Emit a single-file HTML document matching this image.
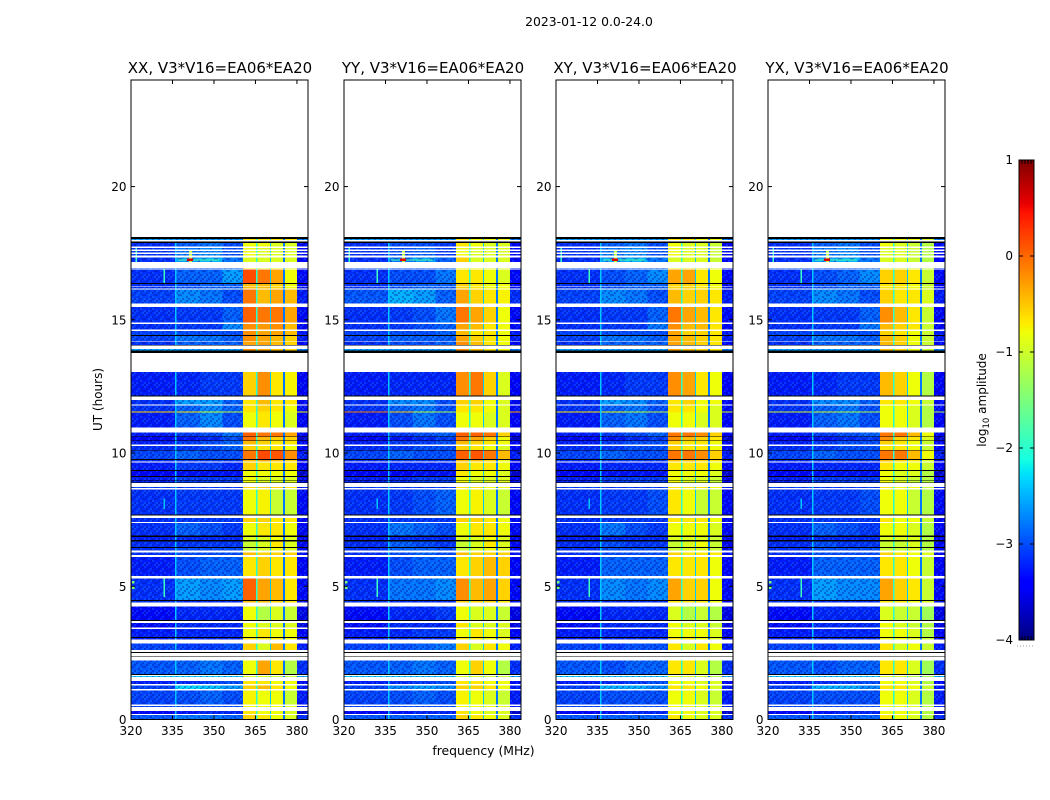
<!DOCTYPE html>
<html>
<head>
<meta charset="utf-8">
<title>2023-01-12 amplitude waterfall</title>
<style>
html,body{margin:0;padding:0;background:#fff;}
svg{display:block;}
text{font-family:"DejaVu Sans","Liberation Sans",sans-serif;fill:#000;}
</style>
</head>
<body>
<svg id="fig" xmlns="http://www.w3.org/2000/svg" width="1050" height="800" viewBox="0 0 1050 800">
<defs>
<pattern id="speckle" width="12" height="12" patternUnits="userSpaceOnUse">
<path d="M0 0h2v2H0zM6 0h2v2H6zM4 2h2v2H4zM10 2h2v2h-2zM2 4h2v2H2zM8 4h2v2H8zM0 6h2v2H0zM6 8h2v2H6zM10 6h2v2h-2zM2 10h2v2H2zM8 10h2v2H8z" fill="#00108c" fill-opacity=".34"/>
<path d="M2 0h2v2H2zM10 0h2v2h-2zM0 2h2v2H0zM6 4h2v2H6zM4 6h2v2H4zM8 8h2v2H8zM0 10h2v2H0zM4 10h2v2H4z" fill="#30b0ff" fill-opacity=".2"/>
</pattern>
</defs>
<text x="589" y="26" font-size="12.4" text-anchor="middle">2023-01-12 0.0-24.0</text>
<text x="483.5" y="755" font-size="12.4" text-anchor="middle">frequency (MHz)</text>
<text x="0" y="0" font-size="12" text-anchor="middle" transform="translate(102,399.5) rotate(-90)">UT (hours)</text>
<text x="0" y="0" font-size="12" text-anchor="middle" transform="translate(986,400) rotate(-90)">log<tspan font-size="8.5" dy="3">10</tspan><tspan dy="-3"> amplitude</tspan></text>
</svg>
<script>
// ---- axis categories and tick labels ----
const panelTitles = ["XX, V3*V16=EA06*EA20","YY, V3*V16=EA06*EA20","XY, V3*V16=EA06*EA20","YX, V3*V16=EA06*EA20"];
const xTickValues = [320,335,350,365,380];
const yTickValues = [0,5,10,15,20];
const colorbarTicks = [1,0,-1,-2,-3,-4];

// ---- frequency zones (MHz): low, midL, midC, midR, blockA, blockB, blockC, blockD ----
const zoneEdges = [[320,336],[336,345],[345,353],[353,360.5],[360.5,365.2],[365.7,370.3],[370.7,375],[375.7,380]];
const edgeZoneEdges = [380,384];
const notchEdges = [[365.2,365.7],[370.3,370.7],[375,375.7]];
const notchLevels = [-2.0,-2.4,-2.8];

// ---- time spans (hours) of the unflagged rows, top to bottom ----
const rowSpans = [[17.99,18.03],[17.75,17.89],[17.63,17.69],[17.53,17.59],[17.41,17.47],[17.17,17.34],[16.92,16.95],[16.39,16.88],[16.25,16.34],[16.18,16.23],[15.61,16.13],[14.90,15.48],[14.63,14.85],[14.43,14.58],[14.21,14.40],[14.05,14.18],[13.85,13.91],[12.16,13.05],[11.82,12.00],[11.56,11.78],[11.52,11.56],[10.95,11.52],[10.62,10.77],[10.47,10.60],[10.32,10.45],[10.12,10.27],[9.77,10.09],[9.68,9.73],[9.37,9.64],[9.14,9.33],[8.99,9.10],[8.89,8.97],[8.68,8.72],[7.69,8.64],[7.42,7.57],[6.90,7.38],[6.73,6.85],[6.48,6.68],[6.35,6.43],[6.17,6.26],[5.39,6.10],[4.49,5.30],[4.40,4.45],[3.74,4.24],[3.46,3.63],[3.10,3.40],[3.00,3.06],[2.61,2.85],[1.71,2.21],[1.60,1.63],[1.33,1.45],[1.15,1.28],[0.57,1.08],[0.46,0.50],[0.21,0.32],[0.00,0.16]];

// ---- black flagged lines (hours) ----
const blackSpans = [[18.03,18.11],[17.89,17.93],[16.34,16.39],[14.40,14.43],[14.03,14.05],[13.75,13.85],[12.12,12.16],[10.60,10.62],[10.45,10.47],[10.09,10.12],[9.73,9.77],[9.33,9.37],[9.10,9.14],[8.97,8.99],[8.87,8.89],[7.65,7.69],[6.85,6.90],[6.68,6.73],[6.43,6.48],[4.45,4.49],[3.70,3.74],[3.06,3.10],[2.50,2.53],[2.36,2.38],[1.67,1.71]];

// ---- narrow interference features: f0, f1, t0, t1, log amplitude ----
const spurs = [[335.9,336.5,0,13.05,-2.4],[335.9,336.5,14.05,17.9,-2.4],[331.8,332.3,16.39,16.88,-1.9],[321.6,322.2,17.17,17.75,-1.9],[341,342,17.15,17.62,-1.1],[337,352,17.23,17.27,-1.7],[340.3,342.4,17.2,17.3,.6],[331.8,332.3,7.9,8.3,-2.4],[331.8,332.3,4.6,5.3,-1.9],[320.4,321.2,4.9,5,-1.5],[320.4,321.2,5.1,5.2,-1.5]];

// ---- log10 amplitude per row, one array per polarisation ----
const xxLevels = [
[-2.4,-2.4,-2.4,-2.4,-.8,-.8,-.8,-.8],[-3,-2.7,-2.6,-2.8,-.9,-.9,-1,-1],[-3,-2.6,-2.5,-2.8,-.9,-1,-1,-1],[-3,-2.6,-2.5,-2.8,-.9,-1,-1,-1],[-3,-2.6,-2.5,-2.8,-.9,-1,-1,-1],[-3,-2.4,-2.3,-2.6,-1,-1,-1,-1],[-2.8,-2.8,-2.8,-2.8,-.9,-.9,-.9,-1],[-3,-2.7,-2.7,-2.4,-.1,-.3,-.5,-.9],[-3,-2.8,-2.7,-2.7,-.6,-.6,-.7,-.9],[-3,-2.8,-2.7,-2.7,-.6,-.6,-.7,-.9],[-2.9,-2.5,-2.6,-2.8,-.3,-.6,-.5,-.6],[-3,-2.9,-2.9,-2.7,-.2,-.3,-.3,-.5],[-3,-2.9,-2.9,-2.5,-.4,-.45,-.4,-.6],[-2.9,-2.8,-2.8,-2.8,-.4,-.5,-.5,-.6],[-2.9,-2.6,-2.6,-2.7,-.4,-.5,-.6,-.7],[-3,-2.7,-2.7,-2.7,-.5,-.5,-.6,-.7],[-2.4,-2.4,-2.4,-2.4,-.4,-.5,-.6,-.7],[-3.1,-3,-2.9,-2.9,-.7,-.4,-.8,-.85],[-3,-2.4,-2.4,-2.7,-.8,-.6,-.8,-.8],[-3,-2.7,-2.5,-2.7,-.8,-.7,-.8,-.9],[-.6,-.7,-1,-1.1,-.8,-.8,-.9,-1],[-3.1,-2.7,-2.5,-2.8,-.9,-.8,-.9,-1],[-3.1,-2.9,-2.8,-2.6,-.2,-.3,-.3,-.5],[-3.3,-3.1,-3,-2.8,-.3,-.6,-.7,-.7],[-3.1,-2.9,-2.8,-2.7,-.6,-.7,-.8,-.8],[-3,-2.9,-2.8,-2.7,-.7,-.8,-.8,-.9],[-2.9,-2.7,-2.8,-2.8,-.3,-.1,-.15,-.4],[-3,-2.9,-2.9,-2.9,-.6,-.5,-.6,-.7],[-3.1,-2.9,-2.9,-3,-.7,-.8,-.8,-.8],[-3.3,-3.1,-3.1,-3.1,-.9,-.9,-.9,-.9],[-3.1,-2.9,-2.9,-2.9,-.9,-1,-1,-1],[-3.1,-2.9,-2.9,-2.9,-.9,-1,-1,-1],[-2.9,-2.9,-2.9,-2.9,-.7,-.7,-.7,-.8],[-3,-2.9,-2.9,-2.9,-.9,-.85,-1.1,-1.1],[-3,-2.9,-2.9,-2.9,-.7,-.7,-.8,-.8],[-3,-2.7,-2.8,-2.9,-.9,-.8,-.8,-.9],[-3.1,-3,-3,-3,-1,-1,-.9,-1],[-3,-2.9,-2.9,-2.9,-1.1,-1,-.8,-1],[-3,-2.8,-2.8,-2.8,-1.1,-1,-.9,-1],[-3,-2.8,-2.8,-2.8,-.6,-.7,-.7,-.7],[-3.1,-2.8,-2.7,-2.7,-.8,-.7,-.8,-.8],[-3,-2.4,-2.5,-2.4,-.2,-.5,-.6,-.8],[-3,-3,-3,-3,-.6,-.6,-.7,-.8],[-3.2,-3,-3,-3,-.9,-1.2,-1,-1.1],[-3.2,-3,-3,-3,-.9,-1,-1,-1],[-3.1,-3,-3,-3,-.9,-.8,-.9,-.9],[-3.1,-3,-3,-3,-.8,-.8,-.8,-.9],[-2.9,-2.9,-2.9,-2.8,-.7,-1,-.6,-.8],[-2.8,-2.7,-2.6,-2.7,-.9,-.5,-.8,-1.2],[-2.2,-2.1,-2.1,-2.2,-1,-1,-1.1,-1.1],[-3.1,-3,-2.9,-2.8,-.8,-.8,-.9,-.9],[-2.9,-2.1,-2.2,-2.4,-.7,-.6,-.8,-.9],[-2.9,-2.8,-2.7,-2.8,-.85,-.9,-.9,-1.1],[-2.9,-2.8,-2.8,-2.8,-.9,-.9,-.9,-1],[-3.3,-3.1,-3,-3,-.8,-.9,-.9,-1],[-2.8,-2.6,-2.6,-2.7,-.7,-.8,-.9,-1]];
const yyLevels = [
[-2.4,-2.4,-2.4,-2.4,-.8,-.9,-.9,-.9],[-3,-2.8,-2.8,-2.9,-.8,-.9,-1,-1],[-3,-2.8,-2.7,-2.9,-.9,-1,-1,-1],[-3,-2.8,-2.7,-2.9,-.9,-1,-1,-1],[-3,-2.8,-2.7,-2.9,-.9,-1,-1,-1],[-3,-2.6,-2.4,-2.7,-.7,-1,-1,-1],[-2.8,-2.8,-2.8,-2.8,-.9,-.9,-1,-1],[-3,-2.8,-2.8,-2.6,-.8,-.8,-.9,-1],[-3,-2.8,-2.7,-2.7,-.7,-.8,-.9,-.9],[-3,-2.8,-2.7,-2.7,-.7,-.8,-.9,-.9],[-2.8,-2.3,-2.4,-2.7,-.5,-.7,-.8,-.85],[-3,-2.9,-2.8,-2.6,-.3,-.5,-.7,-.9],[-3,-2.9,-2.8,-2.7,-.5,-.6,-.8,-.9],[-2.9,-2.8,-2.8,-2.7,-.6,-.8,-.8,-.9],[-2.9,-2.7,-2.7,-2.7,-.5,-.7,-.8,-.9],[-3,-2.8,-2.8,-2.7,-.4,-.6,-.8,-.9],[-2.4,-2.4,-2.4,-2.4,-.4,-.6,-.8,-.9],[-3.1,-3,-3,-3,-.4,-.3,-.7,-1],[-3,-2.5,-2.5,-2.8,-.7,-.7,-.9,-1],[-3,-2.7,-2.6,-2.8,-.8,-.8,-.9,-1],[-.1,-.5,-1.1,-1.2,-.8,-.8,-.9,-1],[-3.1,-2.8,-2.6,-2.8,-.9,-.9,-1,-1],[-3.1,-2.9,-2.8,-2.7,-.2,-.2,-.3,-.7],[-3.3,-3.1,-3,-2.9,-.3,-.5,-.7,-.9],[-3.1,-2.9,-2.9,-2.8,-.6,-.7,-.8,-.9],[-3,-2.9,-2.8,-2.8,-.7,-.8,-.9,-1],[-2.9,-2.7,-2.8,-2.8,-.2,-.15,-.3,-.6],[-3,-2.9,-2.9,-2.9,-.6,-.6,-.7,-.9],[-3.1,-3,-3,-3,-.7,-.8,-.8,-.9],[-3.3,-3.2,-3.1,-3.1,-.8,-.9,-.9,-1],[-3.1,-3,-2.9,-2.9,-.9,-1,-1,-1],[-3.1,-3,-2.9,-2.9,-.9,-1,-1,-1],[-2.9,-2.9,-2.9,-2.9,-.8,-.8,-.9,-.9],[-3,-2.9,-2.8,-2.7,-.9,-.85,-1,-1.1],[-3,-2.9,-2.9,-2.9,-.7,-.7,-.8,-.9],[-3,-2.6,-2.7,-2.8,-.9,-.8,-.8,-.9],[-3.1,-3,-3,-3,-1,-1,-.9,-1],[-3,-2.7,-2.8,-2.9,-1.1,-1,-.8,-1],[-3,-2.7,-2.7,-2.8,-1.1,-1,-.9,-1],[-3,-2.8,-2.7,-2.8,-.6,-.7,-.7,-.7],[-3.1,-2.8,-2.7,-2.7,-.8,-.7,-.6,-.7],[-3,-2.6,-2.6,-2.5,-.4,-.6,-.5,-.7],[-3,-3,-3,-3,-.7,-.7,-.7,-.8],[-3.2,-3,-3,-2.9,-.9,-1,-1,-1.1],[-3.2,-3,-3,-3,-.8,-1,-1,-1],[-3.1,-3,-2.9,-2.9,-.9,-.8,-.9,-1],[-3.1,-3,-3,-3,-.8,-.8,-.9,-.9],[-2.9,-2.8,-2.7,-2.6,-.7,-1,-.8,-.9],[-2.8,-2.7,-2.6,-2.7,-.9,-.7,-.9,-1.2],[-2.2,-2.2,-2.2,-2.2,-1,-1,-1.1,-1.1],[-3.1,-3,-2.9,-2.8,-.8,-.8,-.9,-.9],[-2.9,-2.5,-2.4,-2.5,-.7,-.7,-.8,-.9],[-2.9,-2.8,-2.7,-2.8,-.85,-.9,-1,-1.1],[-2.9,-2.8,-2.8,-2.8,-.9,-.9,-.9,-1],[-3.3,-3.1,-3,-3,-.8,-.9,-1,-1],[-2.8,-2.7,-2.7,-2.7,-.7,-.8,-.9,-1]];
const xyLevels = [
[-2.4,-2.4,-2.4,-2.4,-.8,-.8,-.9,-.9],[-3,-2.7,-2.6,-2.8,-.9,-1,-1,-1.1],[-3,-2.6,-2.5,-2.8,-.9,-1,-1,-1.1],[-3,-2.6,-2.5,-2.8,-.9,-1,-1,-1.1],[-3,-2.6,-2.5,-2.8,-.9,-1,-1,-1.1],[-3,-2.4,-2.3,-2.6,-1,-1,-1,-1.1],[-2.8,-2.8,-2.8,-2.8,-.9,-.9,-1,-1],[-3,-2.8,-2.7,-2.5,-.5,-.5,-.8,-.9],[-3,-2.8,-2.7,-2.7,-.7,-.7,-.8,-.9],[-3,-2.8,-2.7,-2.7,-.7,-.7,-.8,-.9],[-2.9,-2.5,-2.6,-2.8,-.6,-.7,-.7,-.8],[-3,-2.9,-2.9,-2.7,-.3,-.5,-.6,-.8],[-3,-2.9,-2.9,-2.6,-.4,-.6,-.6,-.8],[-2.9,-2.8,-2.8,-2.8,-.5,-.7,-.7,-.8],[-2.9,-2.6,-2.6,-2.7,-.5,-.6,-.7,-.8],[-3,-2.7,-2.7,-2.7,-.5,-.6,-.7,-.8],[-2.4,-2.4,-2.4,-2.4,-.5,-.6,-.7,-.8],[-3.1,-3,-2.9,-2.9,-.4,-.5,-.8,-.9],[-3,-2.4,-2.5,-2.7,-.8,-.7,-.9,-.9],[-3,-2.7,-2.6,-2.8,-.8,-.8,-.9,-1],[-.7,-.8,-1.1,-1.1,-.8,-.8,-.9,-1],[-3.1,-2.7,-2.6,-2.8,-.9,-.9,-1,-1],[-3.1,-2.9,-2.8,-2.7,-.3,-.3,-.4,-.7],[-3.3,-3.1,-3,-2.9,-.4,-.6,-.7,-.8],[-3.1,-2.9,-2.8,-2.8,-.7,-.8,-.8,-.9],[-3,-2.9,-2.8,-2.8,-.7,-.8,-.8,-.9],[-2.9,-2.7,-2.8,-2.8,-.3,-.3,-.4,-.7],[-3,-2.9,-2.9,-2.9,-.6,-.6,-.7,-.8],[-3.1,-3,-3,-3,-.8,-.8,-.8,-.9],[-3.3,-3.1,-3.1,-3.1,-.9,-.9,-.9,-1],[-3.1,-2.9,-2.9,-2.9,-.9,-1,-1,-1.1],[-3.1,-2.9,-2.9,-2.9,-.9,-1,-1,-1.1],[-2.9,-2.9,-2.9,-2.9,-.8,-.8,-.8,-.9],[-3,-2.9,-2.9,-2.8,-.8,-.9,-1.1,-1.1],[-3,-2.9,-2.9,-2.9,-.8,-.8,-.8,-.9],[-3,-2.6,-2.8,-2.9,-.9,-.9,-.9,-1],[-3.1,-3,-3,-3,-1,-1,-1,-1.1],[-3,-2.8,-2.9,-2.9,-1.1,-1,-.9,-1.1],[-3,-2.8,-2.8,-2.8,-1.1,-1,-1,-1.1],[-3,-2.8,-2.8,-2.8,-.7,-.8,-.8,-.8],[-3.1,-2.7,-2.7,-2.7,-.8,-.8,-.8,-.9],[-3,-2.5,-2.6,-2.5,-.5,-.7,-.7,-.9],[-3,-3,-3,-3,-.8,-.8,-.8,-.9],[-3.2,-3,-3,-3,-1,-1.2,-1.1,-1.2],[-3.2,-3,-3,-3,-.9,-1,-1,-1.1],[-3.1,-3,-3,-3,-.9,-.9,-.9,-1],[-3.1,-3,-3,-3,-.8,-.8,-.9,-1],[-2.9,-2.9,-2.8,-2.8,-.8,-1,-.8,-.9],[-2.8,-2.8,-2.7,-2.7,-.8,-.8,-1,-1.2],[-2.2,-2.2,-2.2,-2.2,-1,-1,-1.1,-1.2],[-3.1,-3,-2.9,-2.8,-.9,-.9,-1,-1],[-2.9,-2.3,-2.3,-2.5,-.8,-.8,-.9,-1],[-2.9,-2.8,-2.8,-2.8,-.9,-.9,-1,-1.1],[-2.9,-2.8,-2.8,-2.8,-.9,-.9,-1,-1],[-3.3,-3.1,-3,-3,-.9,-.9,-1,-1],[-2.8,-2.7,-2.7,-2.7,-.8,-.9,-1,-1]];
const yxLevels = [
[-2.4,-2.4,-2.4,-2.4,-.9,-.9,-.9,-1],[-3,-2.7,-2.6,-2.8,-.9,-1,-1.1,-1.2],[-3,-2.6,-2.5,-2.8,-1,-1,-1.1,-1.2],[-3,-2.6,-2.5,-2.8,-1,-1,-1.1,-1.2],[-3,-2.6,-2.5,-2.8,-1,-1,-1.1,-1.2],[-3,-2.4,-2.3,-2.6,-1,-1,-1.1,-1.2],[-2.8,-2.8,-2.8,-2.8,-1,-1,-1.1,-1.2],[-3,-2.8,-2.7,-2.5,-.7,-.7,-.8,-1.1],[-3,-2.8,-2.7,-2.7,-.8,-.8,-.9,-1.1],[-3,-2.8,-2.7,-2.7,-.8,-.8,-.9,-1.1],[-2.9,-2.5,-2.6,-2.8,-.7,-.8,-.8,-1],[-3,-2.9,-2.9,-2.7,-.4,-.6,-.8,-1.1],[-3,-2.9,-2.9,-2.6,-.6,-.7,-.8,-1.1],[-2.9,-2.8,-2.8,-2.8,-.7,-.8,-.9,-1.1],[-2.9,-2.6,-2.6,-2.7,-.6,-.7,-.9,-1.1],[-3,-2.7,-2.7,-2.7,-.6,-.7,-.9,-1.1],[-2.4,-2.4,-2.4,-2.4,-.6,-.7,-.9,-1.1],[-3.1,-3,-2.9,-2.9,-.6,-.7,-.9,-1.2],[-3,-2.5,-2.5,-2.7,-.8,-.8,-.9,-1.1],[-3,-2.7,-2.6,-2.8,-.9,-.9,-1,-1.2],[-1,-1,-1.2,-1.2,-.9,-.9,-1,-1.2],[-3.1,-2.7,-2.6,-2.8,-.9,-.9,-1,-1.2],[-3.1,-2.9,-2.8,-2.7,-.3,-.3,-.6,-.9],[-3.3,-3.1,-3,-2.9,-.4,-.7,-.8,-1],[-3.1,-2.9,-2.8,-2.8,-.7,-.8,-.9,-1.1],[-3,-2.9,-2.8,-2.8,-.8,-.8,-.9,-1.1],[-2.9,-2.7,-2.8,-2.8,-.3,-.3,-.6,-.9],[-3,-2.9,-2.9,-2.9,-.6,-.7,-.8,-1],[-3.1,-3,-3,-3,-.8,-.9,-.9,-1.1],[-3.3,-3.1,-3.1,-3.1,-.9,-1,-1,-1.2],[-3.1,-2.9,-2.9,-2.9,-.9,-1,-1.1,-1.2],[-3.1,-2.9,-2.9,-2.9,-.9,-1,-1.1,-1.2],[-2.9,-2.9,-2.9,-2.9,-.8,-.9,-.9,-1.1],[-3,-2.9,-2.9,-2.8,-.9,-.9,-1.1,-1.2],[-3,-2.9,-2.9,-2.9,-.8,-.9,-.9,-1.1],[-3,-2.7,-2.8,-2.9,-.9,-.9,-1,-1.2],[-3.1,-3,-3,-3,-1,-1,-1,-1.2],[-3,-2.8,-2.9,-2.9,-1.1,-1.1,-1,-1.2],[-3,-2.8,-2.8,-2.8,-1.1,-1.1,-1,-1.2],[-3,-2.8,-2.8,-2.8,-.7,-.8,-.9,-1],[-3.1,-2.7,-2.7,-2.7,-.8,-.8,-.9,-1.1],[-3,-2.4,-2.5,-2.5,-.5,-.7,-.8,-1.1],[-3,-3,-3,-3,-.8,-.8,-.9,-1],[-3.2,-3,-3,-3,-1,-1.1,-1.1,-1.3],[-3.2,-3,-3,-3,-.9,-1,-1.1,-1.2],[-3.1,-3,-3,-3,-.9,-.9,-1,-1.2],[-3.1,-3,-3,-3,-.9,-.9,-1,-1.1],[-2.9,-2.9,-2.8,-2.8,-.8,-1,-.9,-1.1],[-2.8,-2.8,-2.7,-2.7,-.8,-.8,-1,-1.3],[-2.2,-2.2,-2.2,-2.2,-1,-1,-1.2,-1.3],[-3.1,-3,-2.9,-2.8,-.9,-.9,-1,-1.2],[-2.9,-2.3,-2.3,-2.5,-.8,-.8,-.9,-1.1],[-2.9,-2.8,-2.8,-2.8,-.9,-.9,-1,-1.2],[-2.9,-2.8,-2.8,-2.8,-.9,-.9,-1,-1.2],[-3.3,-3.1,-3,-3,-.9,-.9,-1,-1.2],[-2.8,-2.7,-2.7,-2.7,-.8,-.9,-1,-1.2]];
const panelLevels = [xxLevels,yyLevels,xyLevels,yxLevels];
const panelNames = ["xx","yy","xy","yx"];

// ---- layout and scales ----
const NS = "http://www.w3.org/2000/svg";
const fig = document.getElementById("fig");
const panelLeft = [131,344,556,768];
const panelWidth = 177;
const plotTop = 80, plotBottom = 719.5;
const fMin = 320, fMax = 384, tMin = 0, tMax = 24;
const cbX = 1019, cbW = 15, cbTop = 160, cbBottom = 640, cbMin = -4, cbMax = 1;

function xScale(p, f){ return panelLeft[p] + (f - fMin) / (fMax - fMin) * panelWidth; }
function yScale(t){ return plotBottom - (t - tMin) / (tMax - tMin) * (plotBottom - plotTop); }
function cbScale(v){ return cbBottom - (v - cbMin) / (cbMax - cbMin) * (cbBottom - cbTop); }
function ramp(t, pts){
  for (let i = 1; i < pts.length; i++) {
    if (t <= pts[i][0]) {
      const a = pts[i-1], b = pts[i];
      return a[1] + (b[1] - a[1]) * (t - a[0]) / (b[0] - a[0]);
    }
  }
  return pts[pts.length-1][1];
}
function jet(v){
  const t = Math.max(0, Math.min(1, (v - cbMin) / (cbMax - cbMin)));
  const r = ramp(t, [[0,0],[.35,0],[.66,1],[.89,1],[1,.5]]);
  const g = ramp(t, [[0,0],[.125,0],[.375,1],[.64,1],[.91,0],[1,0]]);
  const b = ramp(t, [[0,.5],[.11,1],[.34,1],[.65,0],[1,0]]);
  return "rgb(" + Math.round(r*255) + "," + Math.round(g*255) + "," + Math.round(b*255) + ")";
}
// colour calibration of estimated levels: deeper noise floor, stronger block contrast
function calibrated(zone, v){
  if (zone >= 4) return -.8 + (v + .9) * 1.2;
  if (v > -1.5) return v;
  return zone === 0 ? v - .15 : v - .2;
}
function mk(tag, attrs, parent){
  const el = document.createElementNS(NS, tag);
  for (const k in attrs) el.setAttribute(k, attrs[k]);
  parent.appendChild(el);
  return el;
}
function cell(parent, p, f0, f1, t0, t1, fill){
  const x0 = xScale(p, f0), x1 = xScale(p, f1), y0 = yScale(t1), y1 = yScale(t0);
  return mk("rect", {x:x0, y:y0, width:x1-x0, height:y1-y0, fill:fill, "shape-rendering":"crispEdges"}, parent);
}

panelTitles.forEach(function(title, p){
  const g = mk("g", {}, fig);
  
  

  const levels = panelLevels[p];
  rowSpans.forEach(function(span, r){
    const row = levels[r];
    zoneEdges.forEach(function(z, i){
      const c = cell(g, p, z[0], z[1], span[0], span[1], jet(calibrated(i, row[i])));
      
      
    });
    notchEdges.forEach(function(z, i){
      const c = cell(g, p, z[0], z[1], span[0], span[1], jet(notchLevels[i]));
      
      
    });
    const e = cell(g, p, edgeZoneEdges[0], edgeZoneEdges[1], span[0], span[1], jet(calibrated(0, row[0]) - .2));
    
    
    if (row[0] < -1.5) {
      const s1 = cell(g, p, fMin, 360.5, span[0], span[1], "url(#speckle)");
      
      
      const s2 = cell(g, p, edgeZoneEdges[0], edgeZoneEdges[1], span[0], span[1], "url(#speckle)");
      
      
    }
  });

  spurs.forEach(function(s){
    rowSpans.forEach(function(span){
      const a = Math.max(s[2], span[0]), b = Math.min(s[3], span[1]);
      if (b > a) {
        const c = cell(g, p, s[0], s[1], a, b, jet(s[4]));
        
        
      }
    });
  });

  blackSpans.forEach(function(b){
    const c = cell(g, p, fMin, fMax, b[0], b[1], "#000");
    
    
  });

  const L = panelLeft[p], R = L + panelWidth;
  const frame = mk("rect", {x:L, y:plotTop, width:panelWidth, height:plotBottom-plotTop, fill:"none", stroke:"#000", "stroke-width":1}, g);
  
  

  xTickValues.forEach(function(v){
    const x = xScale(p, v);
    const t1 = mk("line", {x1:x, x2:x, y1:plotBottom, y2:plotBottom-4, stroke:"#000"}, g);
    
    
    const t2 = mk("line", {x1:x, x2:x, y1:plotTop, y2:plotTop+4, stroke:"#000"}, g);
    
    
    const lab = mk("text", {x:x, y:735, "font-size":12, "text-anchor":"middle"}, g);
    lab.textContent = String(v);
    
    
  });
  yTickValues.forEach(function(v){
    const y = yScale(v);
    const t1 = mk("line", {x1:L, x2:L+4, y1:y, y2:y, stroke:"#000"}, g);
    
    
    const t2 = mk("line", {x1:R, x2:R-4, y1:y, y2:y, stroke:"#000"}, g);
    
    
    const lab = mk("text", {x:L-4.5, y:y+4.5, "font-size":12, "text-anchor":"end"}, g);
    lab.textContent = String(v);
    
    
  });

  const ttl = mk("text", {x:L + panelWidth/2 + .5, y:73, "font-size":15, "text-anchor":"middle"}, g);
  ttl.textContent = title;
  
  
});

// ---- colorbar ----
const cb = mk("g", {}, fig);


for (let y = cbTop; y < cbBottom; y += 2) {
  const v = cbMax - (y + 1 - cbTop) / (cbBottom - cbTop) * (cbMax - cbMin);
  const s = mk("rect", {x:cbX, y:y, width:cbW, height:2, fill:jet(v), "shape-rendering":"crispEdges"}, cb);
  
  
}
const cbFrame = mk("rect", {x:cbX, y:cbTop, width:cbW, height:cbBottom-cbTop, fill:"none", stroke:"#000"}, cb);


colorbarTicks.forEach(function(v){
  const y = cbScale(v);
  if (v > cbMin && v < cbMax) {
    const a = mk("line", {x1:cbX, x2:cbX+4, y1:y, y2:y, stroke:"#000"}, cb);
    
    
    const b = mk("line", {x1:cbX+cbW, x2:cbX+cbW-4, y1:y, y2:y, stroke:"#000"}, cb);
    
    
  }
  const lab = mk("text", {x:cbX-6, y:y+4, "font-size":12, "text-anchor":"end"}, cb);
  lab.textContent = v < 0 ? "\u2212" + Math.abs(v) : String(v);
  
  
});
[3,6,9,12].forEach(function(dx){
  const a = mk("line", {x1:cbX+dx, x2:cbX+dx, y1:cbTop, y2:cbTop+4, stroke:"#000"}, cb);
  
  
  const b = mk("line", {x1:cbX+dx, x2:cbX+dx, y1:cbBottom, y2:cbBottom-4, stroke:"#000"}, cb);
  
  
});
const dots = mk("line", {x1:1017, x2:1035, y1:646, y2:646, stroke:"#999", "stroke-width":1, "stroke-dasharray":"1 2"}, cb);


</script>
</body>
</html>
